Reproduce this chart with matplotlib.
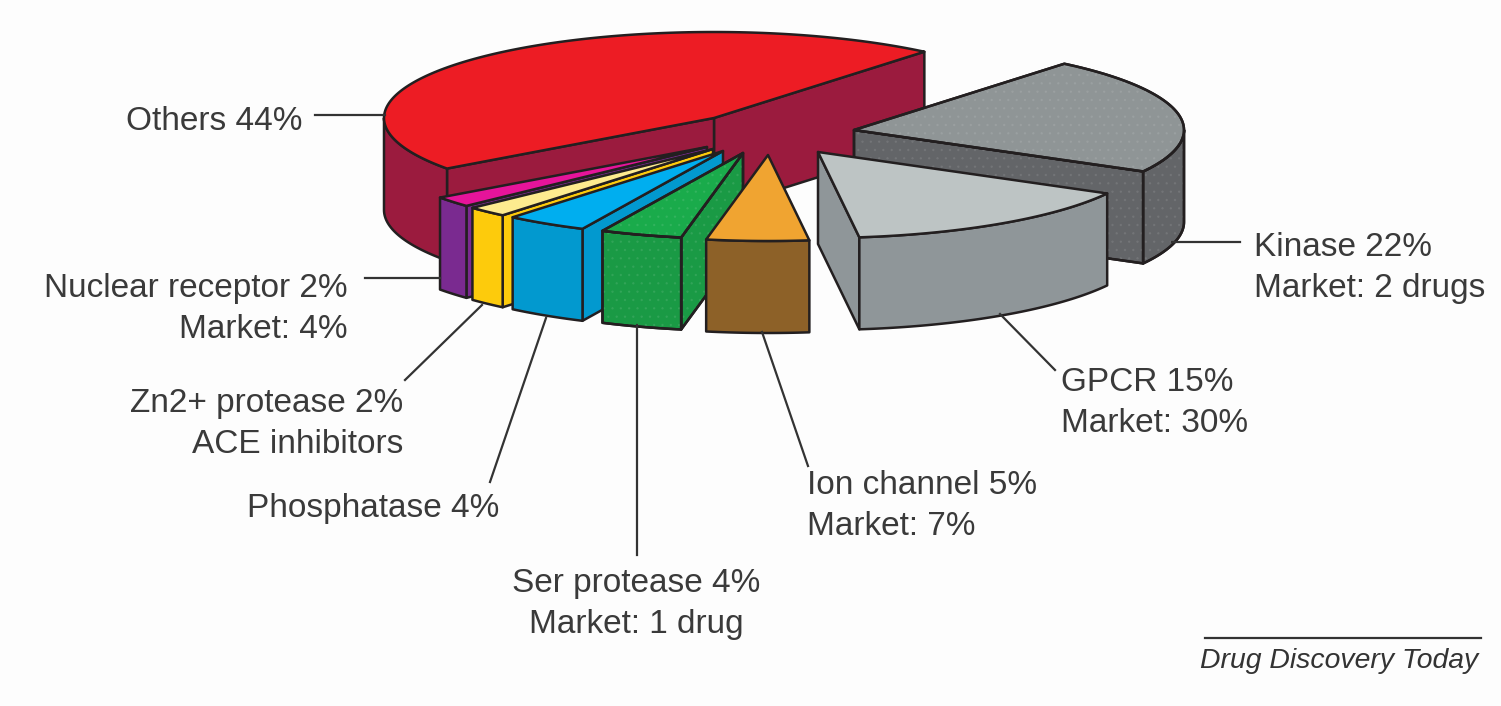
import numpy as np
import matplotlib
matplotlib.use("Agg")
import matplotlib.pyplot as plt
from matplotlib.patches import Polygon

plt.rcParams['font.family'] = ['Liberation Sans', 'DejaVu Sans']

# data, in drawing order (counter clockwise from the right edge of Others)
names = ["Others", "Nuclear receptor", "Zn2+ protease", "Phosphatase",
         "Ser protease", "Ion channel", "GPCR", "Kinase"]
percents = [44, 2, 2, 4, 4, 5, 15, 22]
notes = ["", "Market: 4%", "ACE inhibitors", "", "Market: 1 drug",
         "Market: 7%", "Market: 30%", "Market: 2 drugs"]

top_colors = ["#ed1c24", "#e6149a", "#fdeb8f", "#00aeef",
              "#1aab4b", "#f0a431", "#bdc4c4", "#8f9596"]
wall_colors = ["#9b1b3e", "#7a2a90", "#fdcb0c", "#0299cf",
               "#1a9a45", "#8d6128", "#8f9699", "#636568"]
stippled = [False, False, False, False, True, False, False, True]

# where each exploded slice has its tip, in pixels of the figure
tips_x = [714, 707, 713, 723, 743, 768, 818, 854]
tips_y = [118, 147, 149, 151, 153, 155, 152, 130]

radius_x = 330
radius_y = 86
depth = 92
start_angle = 50.4
ink = "#231f20"

# label placement: x, y of the text, alignment, leader line
label_x = [302, 348, 403, 499, 636, 807, 1061, 1254]
label_y = [121, 309, 424, 508, 604, 506, 403, 268]
label_ha = ["right", "right", "right", "right", "center", "left", "left", "left"]
leader_x = [(385, 315), (440, 365), (482, 405), (546, 490),
            (637, 637), (762, 808), (1000, 1055), (1172, 1240)]
leader_y = [(115, 115), (278, 278), (305, 380), (318, 482),
            (325, 555), (332, 466), (314, 370), (242, 242)]


def rim(cx, cy, a0, a1, drop=0):
    a = np.radians(np.linspace(a0, a1, max(int(abs(a1 - a0)), 2) + 1))
    return np.column_stack([cx + radius_x * np.cos(a),
                            cy - radius_y * np.sin(a) + drop])


def face(ax, pts, color, dots=False):
    ax.add_patch(Polygon(pts, closed=True, facecolor=color, edgecolor=ink,
                         linewidth=1.8, joinstyle="round"))
    if dots:
        ax.add_patch(Polygon(pts, closed=True, facecolor="none",
                             edgecolor=(1, 1, 1, 0.07), hatch="..", linewidth=0))
        ax.add_patch(Polygon(pts, closed=True, facecolor="none", edgecolor=ink,
                             linewidth=1.8, joinstyle="round"))


def side_wall(ax, cx, cy, angle, color, dots):
    p = rim(cx, cy, angle, angle + 1)[0]
    pts = [(cx, cy), p, (p[0], p[1] + depth), (cx, cy + depth)]
    face(ax, pts, color, dots)


def slice_3d(ax, cx, cy, a0, a1, top, wall, dots):
    # the two cut faces, only if they look towards the viewer
    if np.cos(np.radians(a0)) > 0:
        side_wall(ax, cx, cy, a0, wall, dots)
    if np.cos(np.radians(a1)) < 0:
        side_wall(ax, cx, cy, a1, wall, dots)

    # outer wall, only the front half of the ellipse shows
    for lo, hi in [(180, 360), (540, 720)]:
        b0, b1 = max(a0, lo), min(a1, hi)
        if b1 > b0:
            upper = rim(cx, cy, b0, b1)
            lower = rim(cx, cy, b1, b0, depth)
            face(ax, np.vstack([upper, lower]), wall, dots)

    pts = np.vstack([[(cx, cy)], rim(cx, cy, a0, a1)])
    face(ax, pts, top, dots)


fig = plt.figure(figsize=(15.01, 7.06), dpi=100, facecolor="#fdfdfd")
ax = fig.add_axes([0, 0, 1, 1])
ax.set_xlim(0, 1501)
ax.set_ylim(706, 0)
ax.axis("off")

# labelled shares only add up to 98, Others is drawn with what is left
sweeps = np.array(percents) * 3.6
sweeps[0] = 360 - sweeps[1:].sum()
ends = start_angle + np.cumsum(sweeps)
starts = ends - sweeps

plt.rcParams['hatch.linewidth'] = 0.6

# Others and Kinase sit behind everything, the rest goes left to right
order = [0, 7, 6, 1, 2, 3, 4, 5]
for i in order:
    slice_3d(ax, tips_x[i], tips_y[i], starts[i], ends[i],
             top_colors[i], wall_colors[i], stippled[i])

for i in range(len(names)):
    ax.plot(leader_x[i], leader_y[i], color="#333333", lw=1.6, zorder=1)
    txt = f"{names[i]} {percents[i]}%"
    if notes[i]:
        txt += "\n" + notes[i]
    ax.text(label_x[i], label_y[i], txt, ha=label_ha[i], va="center",
            multialignment=label_ha[i], fontsize=24, color="#3a3a3a",
            linespacing=1.43)

ax.plot([1205, 1481], [638, 638], color="#333333", lw=1.6)
ax.text(1200, 661, "Drug Discovery Today", ha="left", va="center",
        fontsize=20.4, style="italic", color="#333333")

fig.savefig("out.png", dpi=100, facecolor=fig.get_facecolor())
